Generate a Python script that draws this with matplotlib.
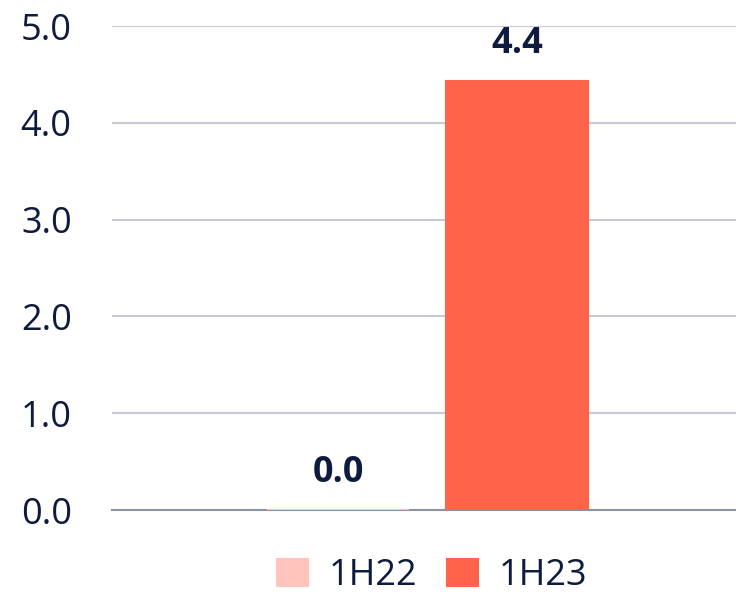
import matplotlib
matplotlib.use('Agg')
import matplotlib.pyplot as plt

# Chart data
periods = ['1H22', '1H23']
values = [0.0, 4.43]
colors = ['#FFC4BC', '#FF644B']
yticks = [0.0, 1.0, 2.0, 3.0, 4.0, 5.0]

text_color = '#0D1B3E'
plt.rcParams['font.family'] = ['Open Sans', 'DejaVu Sans']

fig = plt.figure(figsize=(7.36, 5.99), dpi=100)
ax = fig.add_axes([112 / 736, 1 - 510 / 599, 624 / 736, 484 / 599])

width = 0.228
offsets = [-0.1435, 0.1435]
for off, val, col, lab in zip(offsets, values, colors, periods):
    ax.bar(off, val, width=width, color=col, edgecolor=col, linewidth=1.5,
           label=lab, zorder=5)
    ax.annotate(f'{val:.1f}', xy=(off, val), xytext=(0, 14),
                textcoords='offset points', ha='center', va='bottom',
                fontsize=26, fontweight='bold', color=text_color,
                annotation_clip=False)

ax.set_xlim(-0.5056, 0.4944)
ax.set_ylim(0, 5)
ax.set_yticks(yticks)
ax.set_yticklabels([f'{t:.1f}' for t in yticks])
ax.set_xticks([])
ax.tick_params(axis='y', length=0, pad=29, labelsize=26, labelcolor=text_color)

ax.grid(axis='y', color='#C8C9D6', linewidth=1.5, zorder=0)
for side in ['top', 'right', 'left']:
    ax.spines[side].set_visible(False)
ax.spines['bottom'].set_color('#8E92A3')
ax.spines['bottom'].set_linewidth(1.5)
ax.spines['bottom'].set_zorder(4)

fig.legend(loc='center', bbox_to_anchor=(432 / 736, 1 - 576 / 599), ncol=2,
           frameon=False, fontsize=26, labelcolor=text_color,
           handlelength=0.86, handleheight=0.78, handletextpad=0.58,
           columnspacing=0.8)

fig.savefig('out.png', dpi=100)
